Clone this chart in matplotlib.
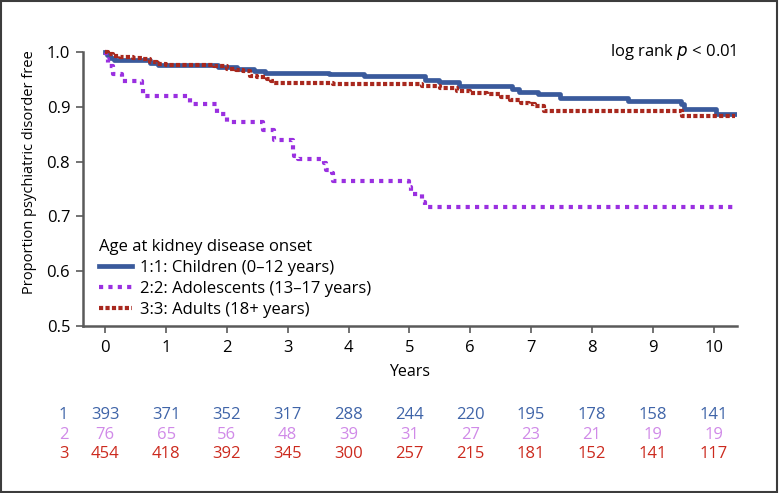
"""
Kaplan-Meier style chart: psychiatric disorder free by age at kidney disease onset
"""
import matplotlib
matplotlib.use('Agg')
import matplotlib.pyplot as plt
from matplotlib.patches import Rectangle

plt.rcParams['font.family'] = ['Open Sans', 'DejaVu Sans']

# Step curves (time in years, survival after the step)
children_t = [0, 0.03, 0.08, 0.14, 0.74, 0.87, 1.86, 2.17, 2.44, 2.63, 3.67, 4.26,
              5.25, 5.48, 5.82, 6.68, 6.80, 7.12, 7.47, 8.60, 9.46, 9.52, 10.04, 10.36]
children_s = [1.0, 0.995, 0.990, 0.985, 0.981, 0.977, 0.973, 0.969, 0.965, 0.962, 0.960, 0.957,
              0.949, 0.945, 0.938, 0.932, 0.928, 0.923, 0.917, 0.911, 0.905, 0.896, 0.888, 0.888]

adol_t = [0, 0.02, 0.05, 0.12, 0.28, 0.60, 0.62, 1.40, 1.84, 2.00, 2.60, 2.77, 3.08, 3.11,
          3.17, 3.59, 3.63, 3.73, 3.75, 4.99, 5.02, 5.20, 5.25, 10.36]
adol_s = [1.0, 0.987, 0.974, 0.961, 0.947, 0.934, 0.920, 0.905, 0.888, 0.873, 0.857, 0.840, 0.822, 0.810,
          0.804, 0.798, 0.785, 0.780, 0.765, 0.754, 0.741, 0.727, 0.717, 0.717]

adult_t = [0, 0.05, 0.12, 0.25, 0.45, 0.60, 0.74, 0.85, 1.00, 1.78, 2.00, 2.15, 2.27, 2.38,
           2.50, 2.66, 2.72, 2.77, 3.75, 5.20, 5.50, 5.78, 6.00, 6.28, 6.50, 6.66, 6.83,
           6.96, 7.07, 7.21, 9.48, 10.36]
adult_s = [1.0, 0.997, 0.993, 0.991, 0.989, 0.987, 0.982, 0.978, 0.977, 0.975, 0.969, 0.967, 0.965, 0.957,
           0.955, 0.952, 0.948, 0.944, 0.942, 0.938, 0.934, 0.930, 0.926, 0.923, 0.918, 0.913, 0.908,
           0.905, 0.901, 0.893, 0.884, 0.884]

# Number at risk table
risk_years = list(range(0, 11))
risk_children = [393, 371, 352, 317, 288, 244, 220, 195, 178, 158, 141]
risk_adol = [76, 65, 56, 48, 39, 31, 27, 23, 21, 19, 19]
risk_adult = [454, 418, 392, 345, 300, 257, 215, 181, 152, 141, 117]

blue = '#3a5a9c'
purple = '#9a30e0'
red = '#a8281e'
fs = 12

fig = plt.figure(figsize=(7.79, 4.93), dpi=100)
ax = fig.add_axes([0.1062, 0.3394, 0.8395, 0.6211])

ax.step(children_t, children_s, where='post', color=blue, linewidth=3.4,
        label='1:1: Children (0\u201312 years)')
ax.step(adol_t, adol_s, where='post', color=purple, linewidth=3.0,
        linestyle=(0, (1, 1.25)), label='2:2: Adolescents (13\u201317 years)')
ax.step(adult_t, adult_s, where='post', color=red, linewidth=3.0,
        linestyle=(0, (1, 0.55)), label='3:3: Adults (18+ years)')

ax.set_xlim(-0.37, 10.38)
ax.set_ylim(0.5, 1.06)
ax.set_xticks(risk_years)
ax.set_yticks([0.5, 0.6, 0.7, 0.8, 0.9, 1.0])
ax.set_yticklabels(['0.5', '0.6', '0.7', '0.8', '0.9', '1.0'])
for side in ['top', 'right']:
    ax.spines[side].set_visible(False)
ax.spines['left'].set_bounds(0.5, 1.0)
for side in ['left', 'bottom']:
    ax.spines[side].set_color('#5a5a5a')
    ax.spines[side].set_linewidth(1.8)
ax.tick_params(axis='both', direction='out', length=5, width=1.2, color='#5a5a5a',
               labelsize=fs, pad=4)
ax.tick_params(axis='x', pad=5)
ax.set_xlabel('Years', fontsize=11.5, labelpad=6)
ax.set_ylabel('Proportion psychiatric disorder free', fontsize=10.5, labelpad=7)

ax.text(10.38, 1.0, 'log rank $p$ < 0.01', ha='right', va='center', fontsize=fs)

leg = ax.legend(loc='lower left', bbox_to_anchor=(0.013, 0.0), title='Age at kidney disease onset',
                fontsize=fs, title_fontsize=fs, frameon=False, handlelength=2.0,
                handletextpad=0.5, labelspacing=0.3, borderaxespad=0.15, borderpad=0.3)
leg._legend_box.align = 'left'

# Risk table below the plot
ax_risk = fig.add_axes([0.1062, 0.0467, 0.8395, 0.1420])
ax_risk.set_xlim(-0.37, 10.38)
ax_risk.set_ylim(3.80, 0.237)
ax_risk.axis('off')
rows = [(risk_children, '#3f64a8'), (risk_adol, '#d08ae8'), (risk_adult, '#cc2a1e')]
for i, (vals, col) in enumerate(rows, start=1):
    ax_risk.text(-0.685, i, str(i), ha='center', va='center', color=col, fontsize=fs, clip_on=False)
    for yr, v in zip(risk_years, vals):
        ax_risk.text(yr, i, str(v), ha='center', va='center', color=col, fontsize=fs)

fig.patches.append(Rectangle((0.001, 0.002), 0.996, 0.996, transform=fig.transFigure,
                             fill=False, edgecolor='#3c3c3c', linewidth=1.5))

fig.savefig('out.png', dpi=100)
